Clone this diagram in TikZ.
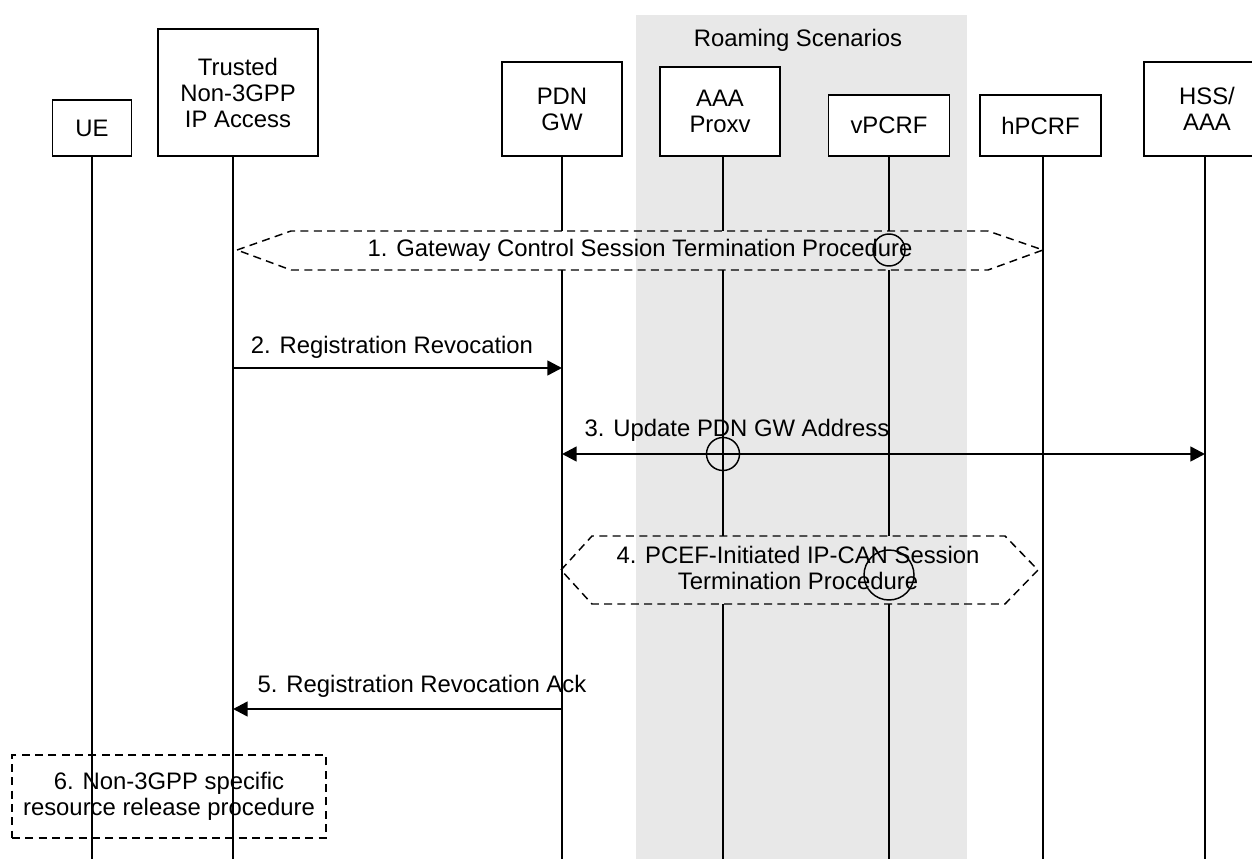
\documentclass[tikz,border=0pt]{standalone}
\usepackage{fontspec}
\setmainfont{Liberation Sans}
\usetikzlibrary{arrows.meta}
\definecolor{roam}{RGB}{232,232,232}
\begin{document}
\begin{tikzpicture}[x=0.75pt,y=-0.75pt,
  every node/.style={font=\fontsize{17.9}{19.5}\selectfont, inner sep=0pt},
  entity/.style={draw, fill=white, line width=1.1pt, align=center},
  life/.style={line width=1.1pt},
  msg/.style={line width=1.9pt, -{Triangle[length=11pt,width=11pt]}},
  dmsg/.style={line width=1.9pt, {Triangle[length=11pt,width=11pt]}-{Triangle[length=11pt,width=11pt]}},
  proc/.style={line width=1.1pt, dash pattern=on 6pt off 4pt},
  xcirc/.style={circle, draw, line width=1.1pt}
]
\useasboundingbox (0,0) rectangle (1252,859);
\fill[roam] (636,15) rectangle (967,859);
\node (roamlbl) at (798,40) {Roaming Scenarios};

% entities
\node[entity, minimum width=59.25pt, minimum height=42pt] (ue) at (92,128) {UE};
\node[entity, minimum width=120pt, minimum height=95.25pt] (tna) at (238,92.5) {Trusted\\Non-3GPP\\IP Access};
\node[entity, minimum width=90pt, minimum height=70.5pt] (pdn) at (562,109) {PDN\\GW};
\node[entity, minimum width=90pt, minimum height=66.75pt] (aaa) at (720,111.5) {AAA\\Proxv};
\node[entity, minimum width=90.75pt, minimum height=45.75pt] (vpcrf) at (889,125.5) {vPCRF};
\node[entity, minimum width=90.75pt, minimum height=45.75pt] (hpcrf) at (1040.5,125.5) {hPCRF};
\node[entity, minimum width=94.5pt, minimum height=70.5pt] (hss) at (1207,109) {HSS/\\AAA};

% reference levels
\coordinate (bot) at (0,859);
\coordinate (h1t) at (0,231);
\coordinate (h1b) at (0,270);
\coordinate (h4t) at (0,536);
\coordinate (h4b) at (0,604);

% lifelines
\draw[life] (ue.south) -- (ue.south |- bot);
\draw[life] ([xshift=-3.75pt]tna.south) -- ([xshift=-3.75pt]tna.south |- bot);
\draw[life] (pdn.south) -- (pdn.south |- h1t) (pdn.south |- h1b) -- (pdn.south |- bot);
\draw[life] ([xshift=2.25pt]aaa.south) -- ([xshift=2.25pt]aaa.south |- h1t)
  ([xshift=2.25pt]aaa.south |- h1b) -- ([xshift=2.25pt]aaa.south |- h4t)
  ([xshift=2.25pt]aaa.south |- h4b) -- ([xshift=2.25pt]aaa.south |- bot);
\draw[life] (vpcrf.south) -- (vpcrf.south |- h1t)
  (vpcrf.south |- h1b) -- (vpcrf.south |- h4t)
  (vpcrf.south |- h4b) -- (vpcrf.south |- bot);
\draw[life] ([xshift=1.9pt]hpcrf.south) -- ([xshift=1.9pt]hpcrf.south |- bot);
\draw[life] ([xshift=-1.5pt]hss.south) -- ([xshift=-1.5pt]hss.south |- bot);

% 1. procedure hexagon
\draw[proc] (237,250) -- (291,231) -- (988,231) -- (1043,250) -- (988,270) -- (291,270) -- cycle;
\node[xcirc, minimum size=24pt] (c1) at (889,250) {};
\node (p1) at (640,250) {1. Gateway Control Session Termination Procedure};

% 2. Registration Revocation
\coordinate (m2a) at (233,368);
\coordinate (m2b) at (562,368);
\draw[msg] (m2a) -- (m2b);
\node (l2) at (392,347) {2. Registration Revocation};

% 3. Update PDN GW Address
\coordinate (m3a) at (562,454);
\coordinate (m3b) at (1205,454);
\draw[dmsg] (m3a) -- (m3b);
\node[xcirc, minimum size=24.75pt] (c3) at (723,454) {};
\node (l3) at (737,430) {3. Update PDN GW Address};

% 4. procedure hexagon
\draw[proc] (561,570) -- (592,536) -- (1005,536) -- (1038,570) -- (1005,604) -- (592,604) -- cycle;
\node[xcirc, minimum size=37.5pt] (c4) at (889,575) {};
\node[align=center] (p4) at (798,568) {4. PCEF-Initiated IP-CAN Session\\Termination Procedure};

% 5. Registration Revocation Ack
\coordinate (m5a) at (562,709);
\coordinate (m5b) at (233,709);
\draw[msg] (m5a) -- (m5b);
\node (l5) at (422,686) {5. Registration Revocation Ack};

% 6. box
\node[proc, draw, align=center, minimum width=235.5pt, minimum height=62.25pt] (p6) at (169,796.5) {6. Non-3GPP specific\\resource release procedure};
\end{tikzpicture}
\end{document}
